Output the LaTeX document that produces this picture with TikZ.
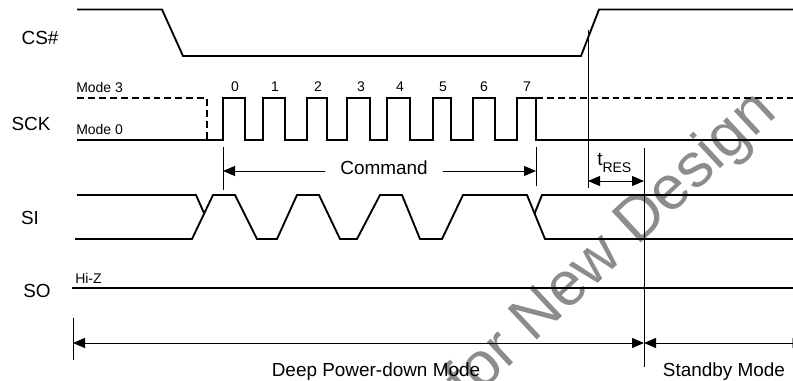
\documentclass[tikz,border=0pt]{standalone}
\usepackage{fontspec}
\setmainfont{Liberation Sans}
\usetikzlibrary{arrows.meta}

\tikzset{
  sig/.style={line width=1.4pt},
  guide/.style={line width=0.7pt},
  dsh/.style={dash pattern=on 5.2pt off 3pt},
  onetip/.style={guide,-{Triangle[length=9pt,width=7.5pt]}},
  twotip/.style={guide,{Triangle[length=9pt,width=7.5pt]}-{Triangle[length=9pt,width=7.5pt]}},
  big/.style={font=\fontsize{14.2}{16}\selectfont,inner sep=0pt},
  small/.style={font=\fontsize{10.5}{12}\selectfont,inner sep=0pt},
  wmark/.style={font=\fontsize{46.5}{50}\selectfont,text=black!45,inner sep=0pt},
}

\begin{document}
\begin{tikzpicture}[x=0.75pt,y=-0.75pt]
    \useasboundingbox (0,0) rectangle (793,381);

    \begin{scope}
        \clip (0,0) rectangle (793,381);
        \node[wmark,rotate=43,anchor=base east] (wm) at (778.6,115.1) {for New Design};
    \end{scope}

    \node[big] (cs) at (40,38) {CS\#};
    \node[big] (sck) at (31,124) {SCK};
    \node[big] (si) at (30,218) {SI};
    \node[big] (so) at (37,291) {SO};
    \node[small,anchor=base west] (m3) at (76,93) {Mode 3};
    \node[small,anchor=base west] (m0) at (76,135) {Mode 0};
    \node[small,anchor=base west] (hiz) at (75,283) {Hi-Z};

    \draw[sig](77,9.5)--(162,9.5)--(183,56)--(581,56)--(599,9.5)--(800,9.5);

    \draw[sig,dsh](77,98)--(207,98)--(207,140);
    \draw[sig,dsh](536,98)--(800,98);
    \draw[sig](77,140) foreach \r/\f in {223/245,263/285,307/327,347/370,387/410,433/451,473/495,517/536}{--(\r,140)--(\r,98)--(\f,98)--(\f,140)} --(800,140);
    \foreach \n/\x in {0/235,1/275,2/318,3/361,4/400,5/443,6/484,7/527}
        \node[small,anchor=base] (b\n) at (\x,92) {\n};

    \draw[sig](77,195)--(196,195)--(204,213);
    \draw[sig](75,239)--(192,239)--(213,195)--(235,195)--(257,239)--(277,239)--(297,195)--(319,195)--(340,239)--(357,239)--(380,195)--(402,195)--(420,239)--(442,239)--(463,195)--(527,195)--(545,239)--(800,239);
    \draw[sig](534.6,213.5)--(542,195)--(800,195);

    \draw[sig](72,288)--(800,288);

    \draw[guide](223,147)--(223,190);
    \draw[guide](536,147)--(536,186);
    \node[big,inner xsep=11pt] (cmd) at (384,167.5) {Command};
    \coordinate (c0) at (223,171);
    \coordinate (c1) at (536,171);
    \draw[onetip](cmd.west |- c0)--(c0);
    \draw[onetip](cmd.east |- c1)--(c1);

    \draw[guide](588,30)--(588,188);
    \coordinate (r0) at (588,181);
    \coordinate (r1) at (644,181);
    \draw[twotip](r0)--(r1);
    \node[big,anchor=base west] (tres) at (597,166) {t\raisebox{-5.25pt}{\fontsize{10.5}{12}\selectfont RES}};

    \draw[guide](73,318)--(73,360);
    \draw[guide](644,148)--(644,367);
    \coordinate (d0) at (73,343);
    \coordinate (d1) at (644,343);
    \coordinate (d2) at (804.5,343);
    \draw[twotip](d0)--(d1);
    \draw[twotip](d1)--(d2);
    \node[big,anchor=base] (deep) at (376,376) {Deep Power-down Mode};
    \node[big,anchor=base] (stby) at (724,376) {Standby Mode};
\end{tikzpicture}
\end{document}
